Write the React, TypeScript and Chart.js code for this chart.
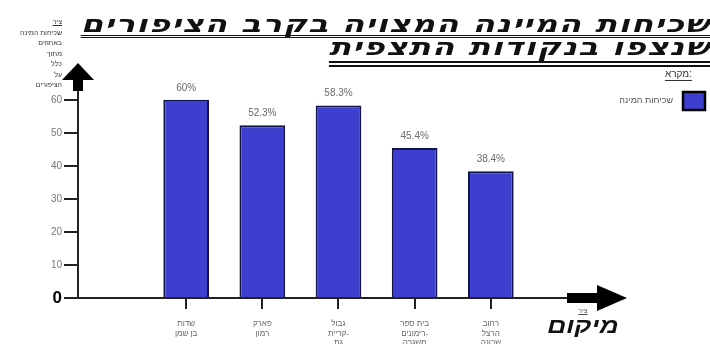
import React, { useEffect, useRef } from "react";
import { Chart, registerables } from "chart.js";

Chart.register(...registerables);

const TITLE_LINES = ["שכיחות המיינה המצויה בקרב הציפורים", "שנצפו בנקודות התצפית"];
const LOCATIONS: string[][] = [
  ["שדות", "בן שמן"],
  ["פארק", "רמון"],
  ["גבול", "קריית-", "גת"],
  ["בית ספר", "רימונים-", "משגרה"],
  ["רחוב", "הרצל", "שכונה"],
];
const FREQUENCY = [60, 52.3, 58.3, 45.4, 38.4];
const VALUE_LABELS = ["60%", "52.3%", "58.3%", "45.4%", "38.4%"];
const Y_TICKS = [0, 10, 20, 30, 40, 50, 60];
const SERIES_LABEL = "שכיחות המינה";
const LEGEND_TITLE = "מקרא:";
const Y_TITLE_HEAD = "ציר";
const Y_TITLE_LINES = ["שכיחות המינה", "באחוזים", "מתוך", "כלל", "על", "הציפורים"];
const X_TITLE_HEAD = "ציר";
const X_TITLE = "מיקום";

const FONT = "'Liberation Sans', Arial, sans-serif";
const TITLE_FONT = "'DejaVu Sans', 'Liberation Sans', sans-serif";
const BAR_COLOR = "#3f3fcf";
const BAR_BORDER = "#15154a";

const decorPlugin = {
  id: "decor",
  afterDatasetsDraw(chart: any) {
    const ctx = chart.ctx;
    const meta = chart.getDatasetMeta(0);
    ctx.save();
    ctx.fillStyle = "#6a6a6a";
    ctx.font = `10px ${FONT}`;
    ctx.textAlign = "center";
    ctx.textBaseline = "middle";
    meta.data.forEach((bar: any, i: number) => {
      ctx.fillText(VALUE_LABELS[i], bar.x, bar.y - 12);
    });
    ctx.restore();
  },
  afterDraw(chart: any) {
    const ctx = chart.ctx;
    const { left, top, right, bottom } = chart.chartArea;
    ctx.save();
    ctx.fillStyle = "#000";
    // y arrow
    ctx.beginPath();
    ctx.moveTo(left - 16, top);
    ctx.lineTo(left + 16, top);
    ctx.lineTo(left, top - 17);
    ctx.closePath();
    ctx.fill();
    ctx.fillRect(left - 5, top - 1, 10, 12);
    // x arrow
    ctx.fillRect(right, bottom - 5, 31, 10);
    ctx.beginPath();
    ctx.moveTo(right + 30, bottom - 13);
    ctx.lineTo(right + 30, bottom + 13);
    ctx.lineTo(right + 60, bottom);
    ctx.closePath();
    ctx.fill();

    // legend
    const ds = chart.data.datasets[0];
    ctx.font = `10px ${FONT}`;
    ctx.textBaseline = "middle";
    ctx.textAlign = "right";
    ctx.fillStyle = "#333";
    ctx.fillText(LEGEND_TITLE, 692, 74);
    const w = ctx.measureText(LEGEND_TITLE).width;
    ctx.fillRect(692 - w, 80, w, 1);
    ctx.fillStyle = ds.backgroundColor;
    ctx.fillRect(683, 92, 22, 18);
    ctx.strokeStyle = "#000";
    ctx.lineWidth = 2.5;
    ctx.strokeRect(683, 92, 22, 18);
    ctx.font = `9px ${FONT}`;
    ctx.fillStyle = "#555";
    ctx.fillText(ds.label, 673, 101);
    ctx.restore();
  },
};

export default function App() {
  const ref = useRef<HTMLCanvasElement>(null);
  useEffect(() => {
    const chart = new Chart(ref.current!, {
      type: "bar",
      data: {
        datasets: [
          {
            label: SERIES_LABEL,
            data: FREQUENCY.map((v, i) => ({ x: i, y: v })),
            backgroundColor: BAR_COLOR,
            borderColor: BAR_BORDER,
            borderWidth: 2,
            barPercentage: 0.75,
            categoryPercentage: 0.8,
          },
        ],
      },
      options: {
        responsive: false,
        animation: false,
        layout: { padding: { top: 80, right: 143, left: 0, bottom: 0 } },
        plugins: { legend: { display: false }, tooltip: { enabled: false } },
        scales: {
          x: {
            type: "linear",
            offset: false,
            min: -1.42,
            max: 5,
            afterFit: (s: any) => {
              s.height = 46;
            },
            afterBuildTicks: (s: any) => {
              s.ticks = LOCATIONS.map((_, i) => ({ value: i }));
            },
            ticks: {
              autoSkip: false,
              maxRotation: 0,
              padding: 10,
              color: "#666",
              font: { size: 8, family: FONT, lineHeight: 1.2 },
              callback: (_v: any, i: number) => LOCATIONS[i],
            },
            grid: { offset: false, drawOnChartArea: false, tickLength: 11, color: "#222", lineWidth: 2 },
            border: { display: true, color: "#222", width: 2 },
          },
          y: {
            min: 0,
            max: 66,
            afterFit: (s: any) => {
              s.width = 78;
            },
            afterBuildTicks: (s: any) => {
              s.ticks = Y_TICKS.map((v) => ({ value: v }));
            },
            ticks: {
              padding: 2,
              color: (c: any) => (c.tick && c.tick.value === 0 ? "#000" : "#777"),
              font: (c: any) =>
                c.tick && c.tick.value === 0
                  ? { size: 17, weight: "bold", family: FONT }
                  : { size: 10, family: FONT },
            },
            grid: { drawOnChartArea: false, tickLength: 14, color: "#222", lineWidth: 2 },
            border: { display: true, color: "#222", width: 2 },
          },
        },
      },
      plugins: [decorPlugin],
    } as any);
    return () => chart.destroy();
  }, []);

  const titleStyle: React.CSSProperties = {
    position: "absolute",
    right: -1,
    direction: "rtl",
    whiteSpace: "nowrap",
    fontFamily: TITLE_FONT,
    fontWeight: "bold",
    fontStyle: "italic",
    fontSize: 24,
    letterSpacing: 1,
    lineHeight: "22px",
    color: "#111",
    transform: "scaleX(1.35)",
    transformOrigin: "right top",
  };

  return (
    <div style={{ position: "fixed", left: 0, top: 0, width: 710, height: 344, background: "#fff", overflow: "hidden" }}>
      <canvas ref={ref} width={710} height={344} style={{ display: "block" }} />
      <div style={{ ...titleStyle, top: 13, borderBottom: "3px double #111" }}>{TITLE_LINES[0]}</div>
      <div style={{ ...titleStyle, top: 36, paddingBottom: 3, borderBottom: "6px double #111" }}>{TITLE_LINES[1]}</div>
      <div
        style={{
          position: "absolute",
          right: 710 - 62,
          top: 17,
          direction: "rtl",
          whiteSpace: "nowrap",
          textAlign: "right",
          fontFamily: FONT,
          fontSize: 7,
          lineHeight: "10.5px",
          color: "#333",
        }}
      >
        <div style={{ textDecoration: "underline" }}>{Y_TITLE_HEAD}</div>
        {Y_TITLE_LINES.map((t, i) => (
          <div key={i}>{t}</div>
        ))}
      </div>
      <div
        style={{
          position: "absolute",
          left: 538,
          top: 306,
          width: 90,
          direction: "rtl",
          textAlign: "center",
          fontFamily: FONT,
        }}
      >
        <div style={{ fontSize: 7, lineHeight: "9px", color: "#555", textDecoration: "underline" }}>{X_TITLE_HEAD}</div>
        <div
          style={{
            fontSize: 22,
            lineHeight: "22px",
            fontWeight: "bold",
            fontStyle: "italic",
            color: "#111",
            transform: "scaleX(1.2)",
          }}
        >
          {X_TITLE}
        </div>
      </div>
    </div>
  );
}
